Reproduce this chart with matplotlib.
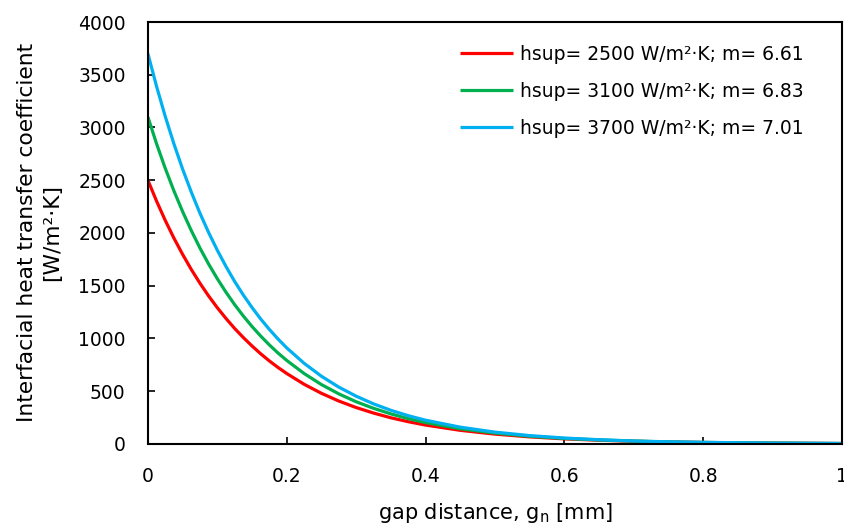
import matplotlib
matplotlib.use("Agg")
import matplotlib.pyplot as plt

gap_mm = [0, 0.0125, 0.025, 0.0375, 0.05, 0.0625, 0.075, 0.0875, 0.1, 0.1125,
          0.125, 0.1375, 0.15, 0.1625, 0.175, 0.1875, 0.2, 0.225, 0.25, 0.275,
          0.3, 0.325, 0.35, 0.375, 0.4, 0.45, 0.5, 0.55, 0.6, 0.65, 0.7, 0.75,
          0.8, 0.9, 1.0]
h_2500 = [2500, 2302, 2119, 1951, 1797, 1654, 1523, 1402, 1291, 1189, 1094, 1008,
          928, 854, 786, 724, 667, 565, 479, 406, 344, 292, 247, 210, 178, 128,
          92, 66, 47, 34, 24, 18, 13, 7, 3]
h_3100 = [3100, 2846, 2613, 2399, 2203, 2023, 1857, 1705, 1566, 1438, 1320, 1212,
          1113, 1022, 938, 861, 791, 667, 562, 474, 399, 337, 284, 239, 202, 143,
          102, 72, 51, 37, 26, 18, 13, 7, 3]
h_3700 = [3700, 3390, 3105, 2845, 2606, 2388, 2187, 2004, 1836, 1682, 1540, 1411,
          1293, 1184, 1085, 994, 910, 764, 641, 538, 452, 379, 318, 267, 224, 158,
          111, 78, 55, 39, 27, 19, 14, 7, 3]
labels = ["hsup= 2500 W/m²·K; m= 6.61",
          "hsup= 3100 W/m²·K; m= 6.83",
          "hsup= 3700 W/m²·K; m= 7.01"]
colors = ["#FF0000", "#00B050", "#00B0F0"]
xticks = [0, 0.2, 0.4, 0.6, 0.8, 1]
xticklabels = ["0", "0.2", "0.4", "0.6", "0.8", "1"]
yticks = [0, 500, 1000, 1500, 2000, 2500, 3000, 3500, 4000]

plt.rcParams['font.family'] = ['DejaVu Sans']
fs = 13.5

fig = plt.figure(figsize=(8.45, 5.24), dpi=100)
ax = fig.add_axes([0.175, 0.153, 0.8215, 0.805])

for y, lab, c in zip([h_2500, h_3100, h_3700], labels, colors):
    ax.plot(gap_mm, y, color=c, lw=2.3, label=lab, solid_capstyle='butt',
            solid_joinstyle='round')

ax.set_xlim(0, 1)
ax.set_ylim(0, 4000)
ax.set_xticks(xticks)
ax.set_xticklabels(xticklabels)
ax.set_yticks(yticks)
ax.tick_params(axis='both', direction='in', length=5, width=1.2, labelsize=fs,
               colors='black')
ax.tick_params(axis='x', pad=16.5)
ax.tick_params(axis='y', pad=16)
for s in ax.spines.values():
    s.set_linewidth(1.5)
    s.set_color('black')

ax.set_xlabel("gap distance, g$_\\mathregular{n}$ [mm]", fontsize=15, labelpad=11)
fig.text(0.047, 0.556, "Interfacial heat transfer coefficient\n[W/m²·K]",
         rotation=90, ha='center', va='center', multialignment='center',
         fontsize=15.7, linespacing=1.3)

leg = fig.legend(loc='upper left', bbox_to_anchor=(460 / 845, 1 - 45 / 524),
                 frameon=False, fontsize=fs, handlelength=2.83, labelspacing=0.96,
                 handletextpad=0.37, borderpad=0, borderaxespad=0)

fig.savefig("out.png", dpi=100)
